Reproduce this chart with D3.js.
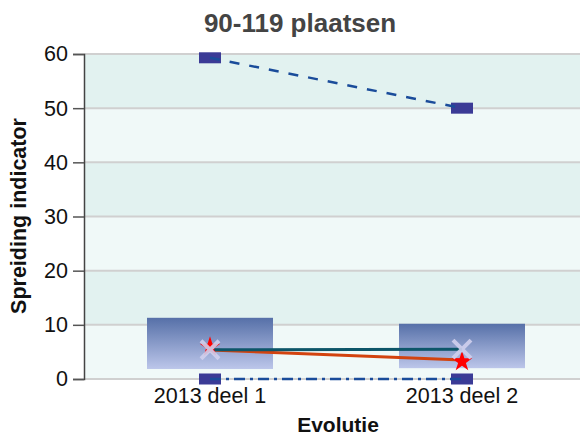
<!DOCTYPE html>
<html>
<head>
<meta charset="utf-8">
<script src="https://cdn.jsdelivr.net/npm/d3@7"></script>
<style>
  body { margin: 0; background: #fff; }
  svg { display: block; font-family: "Liberation Sans", Arial, sans-serif; }
</style>
</head>
<body>
<div id="chart"></div>
<script>
// chart data
const categories = ['2013 deel 1', '2013 deel 2'];
const boxLow = [1.85, 2.0];
const boxHigh = [11.3, 10.2];
const maxValues = [59.3, 50];       // dashed line + squares
const minValues = [0, 0];           // dash-dot line + squares
const tealValues = [5.4, 5.5];      // teal line with crosses
const orangeValues = [5.35, 3.5];   // orange line
const starValues = [5.9, 3.2];      // red stars
const yTicks = [0, 10, 20, 30, 40, 50, 60];

const W = 580, H = 436;
const margin = {top: 54, right: -8, bottom: 57, left: 84};

const svg = d3.select('#chart')
  .append('svg')
    .attr('width', W)
    .attr('height', H);

const x = d3.scaleBand()
  .domain(categories)
  .range([margin.left, W - margin.right])
  .padding(0);

const y = d3.scaleLinear()
  .domain([0, 60])
  .range([H - margin.bottom, margin.top]);

const cx = function(i) { return x(categories[i]) + x.bandwidth() / 2; };

// gradient for the boxes
const defs = svg.append('defs');
const grad = defs.append('linearGradient')
  .attr('id', 'boxGrad')
  .attr('x1', 0).attr('y1', 0).attr('x2', 0).attr('y2', 1);
grad.append('stop').attr('offset', '0%').attr('stop-color', '#5670a8');
grad.append('stop').attr('offset', '100%').attr('stop-color', '#bcc6ea');

// alternating bands
const bands = d3.range(0, 60, 10);
svg.append('g')
  .selectAll('rect')
  .data(bands)
  .enter()
  .append('rect')
    .attr('x', margin.left)
    .attr('y', d => y(d + 10))
    .attr('width', W - margin.left)
    .attr('height', d => y(d) - y(d + 10))
    .style('fill', d => (d / 10) % 2 === 1 ? '#e2f2f0' : '#f0f9f8');

// gridlines
svg.append('g')
  .selectAll('line')
  .data(yTicks)
  .enter()
  .append('line')
    .attr('x1', margin.left)
    .attr('x2', W)
    .attr('y1', d => y(d))
    .attr('y2', d => y(d))
    .style('stroke', '#d0d0d0')
    .style('stroke-width', 2);

// y axis
const yAxis = svg.append('g')
  .attr('transform', `translate(${margin.left}, 0)`)
  .call(d3.axisLeft(y).tickValues(yTicks).tickSize(11).tickPadding(5));
yAxis.select('.domain').style('stroke', '#444').style('stroke-width', 1.5);
yAxis.selectAll('.tick line').style('stroke', '#555').style('stroke-width', 1.5);
yAxis.selectAll('text')
  .style('font-size', '21.5px')
  .style('fill', '#111')
  .style('font-family', '"Liberation Sans", Arial, sans-serif');

// x labels
svg.append('g')
  .selectAll('text')
  .data(categories)
  .enter()
  .append('text')
    .attr('x', (d, i) => cx(i))
    .attr('y', 403)
    .attr('text-anchor', 'middle')
    .style('font-size', '21.5px')
    .style('fill', '#111')
    .text(d => d);

// boxes
const boxW = x.bandwidth() * 0.5;
svg.append('g')
  .selectAll('rect')
  .data(categories)
  .enter()
  .append('rect')
    .attr('x', (d, i) => cx(i) - boxW / 2)
    .attr('y', (d, i) => y(boxHigh[i]))
    .attr('width', boxW)
    .attr('height', (d, i) => y(boxLow[i]) - y(boxHigh[i]))
    .style('fill', 'url(#boxGrad)');

// squares for max and min
const sqW = 22, sqH = 11;
[maxValues, minValues].forEach(function(vals) {
  svg.append('g')
    .selectAll('rect')
    .data(vals)
    .enter()
    .append('rect')
      .attr('x', (d, i) => cx(i) - sqW / 2)
      .attr('y', d => y(d) - sqH / 2)
      .attr('width', sqW)
      .attr('height', sqH)
      .style('fill', '#3b3b96');
});

const line = d3.line()
  .x((d, i) => cx(i))
  .y(d => y(d));

// orange line
svg.append('path')
  .attr('d', line(orangeValues))
  .style('fill', 'none')
  .style('stroke', '#d2430f')
  .style('stroke-width', 3);

// teal line
svg.append('path')
  .attr('d', line(tealValues))
  .style('fill', 'none')
  .style('stroke', '#0d5669')
  .style('stroke-width', 3);

// max dashed line
svg.append('path')
  .attr('d', line(maxValues))
  .style('fill', 'none')
  .style('stroke', '#1a4c9a')
  .style('stroke-width', 2.5)
  .style('stroke-dasharray', '10, 10');

// min dash-dot line
svg.append('path')
  .attr('d', line(minValues))
  .style('fill', 'none')
  .style('stroke', '#1a4c9a')
  .style('stroke-width', 2.5)
  .style('stroke-dasharray', '11, 5, 3, 5');

// red stars
svg.append('g')
  .selectAll('path')
  .data(starValues)
  .enter()
  .append('path')
    .attr('transform', (d, i) => `translate(${cx(i)}, ${y(d)})`)
    .attr('d', d3.symbol().type(d3.symbolStar).size(130))
    .style('fill', '#ff0000');

// crosses
svg.append('g')
  .selectAll('path')
  .data(tealValues)
  .enter()
  .append('path')
    .attr('transform', (d, i) => `translate(${cx(i)}, ${y(d)})`)
    .attr('d', 'M-9,-9L9,9M-9,9L9,-9')
    .style('stroke', '#d0d0ee')
    .style('stroke-width', 4)
    .style('opacity', 0.9);

// title
svg.append('text')
  .attr('x', 300)
  .attr('y', 32)
  .attr('text-anchor', 'middle')
  .style('font-size', '26px')
  .style('font-weight', 'bold')
  .style('fill', '#444')
  .text('90-119 plaatsen');

// axis titles
svg.append('text')
  .attr('x', 338)
  .attr('y', 432)
  .attr('text-anchor', 'middle')
  .style('font-size', '21px')
  .style('font-weight', 'bold')
  .style('fill', '#111')
  .text('Evolutie');

svg.append('text')
  .attr('transform', 'translate(26, 216) rotate(-90)')
  .attr('text-anchor', 'middle')
  .style('font-size', '21.5px')
  .style('font-weight', 'bold')
  .style('fill', '#111')
  .text('Spreiding indicator');
</script>
</body>
</html>
